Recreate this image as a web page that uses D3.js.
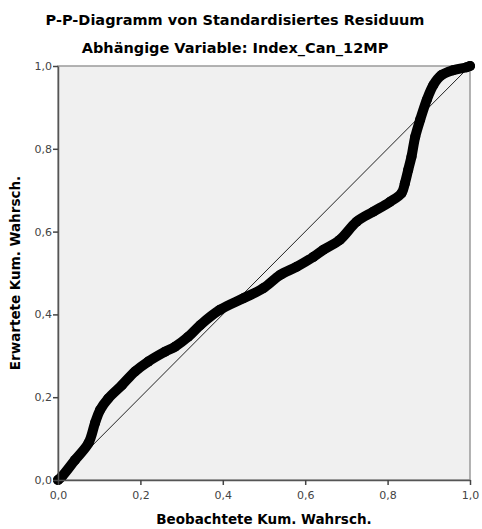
<!DOCTYPE html>
<html>
<head>
<meta charset="utf-8">
<script src="https://cdn.jsdelivr.net/npm/d3@7"></script>
<style>
  html, body { margin: 0; padding: 0; background: #fff; }
  svg { display: block; }
</style>
</head>
<body>
<svg id="chart" width="482" height="529"></svg>
<script>
// observed cumulative probability (x) and expected cumulative probability (y)
const observed = [0.000, 0.009, 0.041, 0.074, 0.090, 0.102, 0.122, 0.155, 0.187, 0.219,
  0.260, 0.284, 0.316, 0.345, 0.393, 0.450, 0.498, 0.539, 0.579, 0.620, 0.644, 0.684,
  0.725, 0.765, 0.806, 0.834, 0.842, 0.850, 0.858, 0.867, 0.879, 0.895, 0.911, 0.931,
  0.959, 0.992, 1.000];
const expected = [0.000, 0.008, 0.048, 0.089, 0.138, 0.169, 0.197, 0.229, 0.262, 0.286,
  0.310, 0.322, 0.346, 0.374, 0.411, 0.439, 0.463, 0.495, 0.515, 0.539, 0.556, 0.580,
  0.624, 0.648, 0.672, 0.693, 0.717, 0.749, 0.781, 0.829, 0.870, 0.918, 0.954, 0.978,
  0.990, 0.997, 1.000];
const ticks = [0, 0.2, 0.4, 0.6, 0.8, 1.0];

const title = "P-P-Diagramm von Standardisiertes Residuum";
const subtitle = "Abhängige Variable: Index_Can_12MP";
const xLabel = "Beobachtete Kum. Wahrsch.";
const yLabel = "Erwartete Kum. Wahrsch.";

const margin = { top: 66, right: 12, bottom: 49, left: 58 };
const width = 482, height = 529;
const font = "'DejaVu Sans', sans-serif";
const fmt = d => d3.format(".1f")(d).replace(".", ",");

const $svg = d3.select("#chart");

const x = d3.scaleLinear()
  .domain([0, 1])
  .range([margin.left, width - margin.right]);
const y = d3.scaleLinear()
  .domain([0, 1])
  .range([height - margin.bottom, margin.top]);

// Plot background + frame
$svg.append("rect")
  .attr("x", x(0)).attr("y", y(1))
  .attr("width", x(1) - x(0)).attr("height", y(0) - y(1))
  .attr("fill", "#f0f0f0")
  .attr("stroke", "#9a9a9a")
  .attr("stroke-width", 1.5);

// Reference diagonal
$svg.append("line")
  .attr("x1", x(0)).attr("y1", y(0))
  .attr("x2", x(1)).attr("y2", y(1))
  .attr("stroke", "#222")
  .attr("stroke-width", 1);

// Points (dense open circles in the original, drawn as a thick band)
const pts = observed.map((d, i) => ({ x: d, y: expected[i] }));
const line = d3.line().x(d => x(d.x)).y(d => y(d.y)).curve(d3.curveCatmullRom);

$svg.append("path")
  .datum(pts)
  .attr("d", line)
  .attr("fill", "none")
  .attr("stroke", "#000")
  .attr("stroke-width", 10)
  .attr("stroke-linecap", "round")
  .attr("stroke-linejoin", "round");

$svg.append("g")
  .selectAll("circle")
  .data(pts)
  .join("circle")
    .attr("cx", d => x(d.x))
    .attr("cy", d => y(d.y))
    .attr("r", 5)
    .attr("fill", "#000");

// Axes
const xAxis = d3.axisBottom(x).tickValues(ticks).tickFormat(fmt).tickSize(5).tickSizeOuter(0);
const yAxis = d3.axisLeft(y).tickValues(ticks).tickFormat(fmt).tickSize(5).tickSizeOuter(0);

const $xAxis = $svg.append("g")
  .attr("transform", `translate(0,${y(0)})`)
  .call(xAxis);
const $yAxis = $svg.append("g")
  .attr("transform", `translate(${x(0)},0)`)
  .call(yAxis);

[$xAxis, $yAxis].forEach($a => {
  $a.select(".domain").attr("stroke", "#555").attr("stroke-width", 1.5);
  $a.selectAll(".tick line").attr("stroke", "#444").attr("stroke-width", 1.5);
  $a.selectAll(".tick text")
    .attr("fill", "#444")
    .style("font-family", font)
    .style("font-size", "11px");
});
$xAxis.selectAll(".tick text").attr("dy", "1em");
$yAxis.selectAll(".tick text").attr("x", -6);

// Titles
$svg.append("text")
  .attr("x", 235).attr("y", 25)
  .attr("text-anchor", "middle")
  .style("font-family", font).style("font-weight", "bold").style("font-size", "14.5px")
  .text(title);
$svg.append("text")
  .attr("x", 235).attr("y", 53)
  .attr("text-anchor", "middle")
  .style("font-family", font).style("font-weight", "bold").style("font-size", "14.5px")
  .text(subtitle);

$svg.append("text")
  .attr("x", (x(0) + x(1)) / 2).attr("y", 524)
  .attr("text-anchor", "middle")
  .style("font-family", font).style("font-weight", "bold").style("font-size", "13.5px")
  .text(xLabel);
$svg.append("text")
  .attr("transform", `translate(20,${(y(0) + y(1)) / 2}) rotate(-90)`)
  .attr("text-anchor", "middle")
  .style("font-family", font).style("font-weight", "bold").style("font-size", "13.5px")
  .text(yLabel);
</script>
</body>
</html>
